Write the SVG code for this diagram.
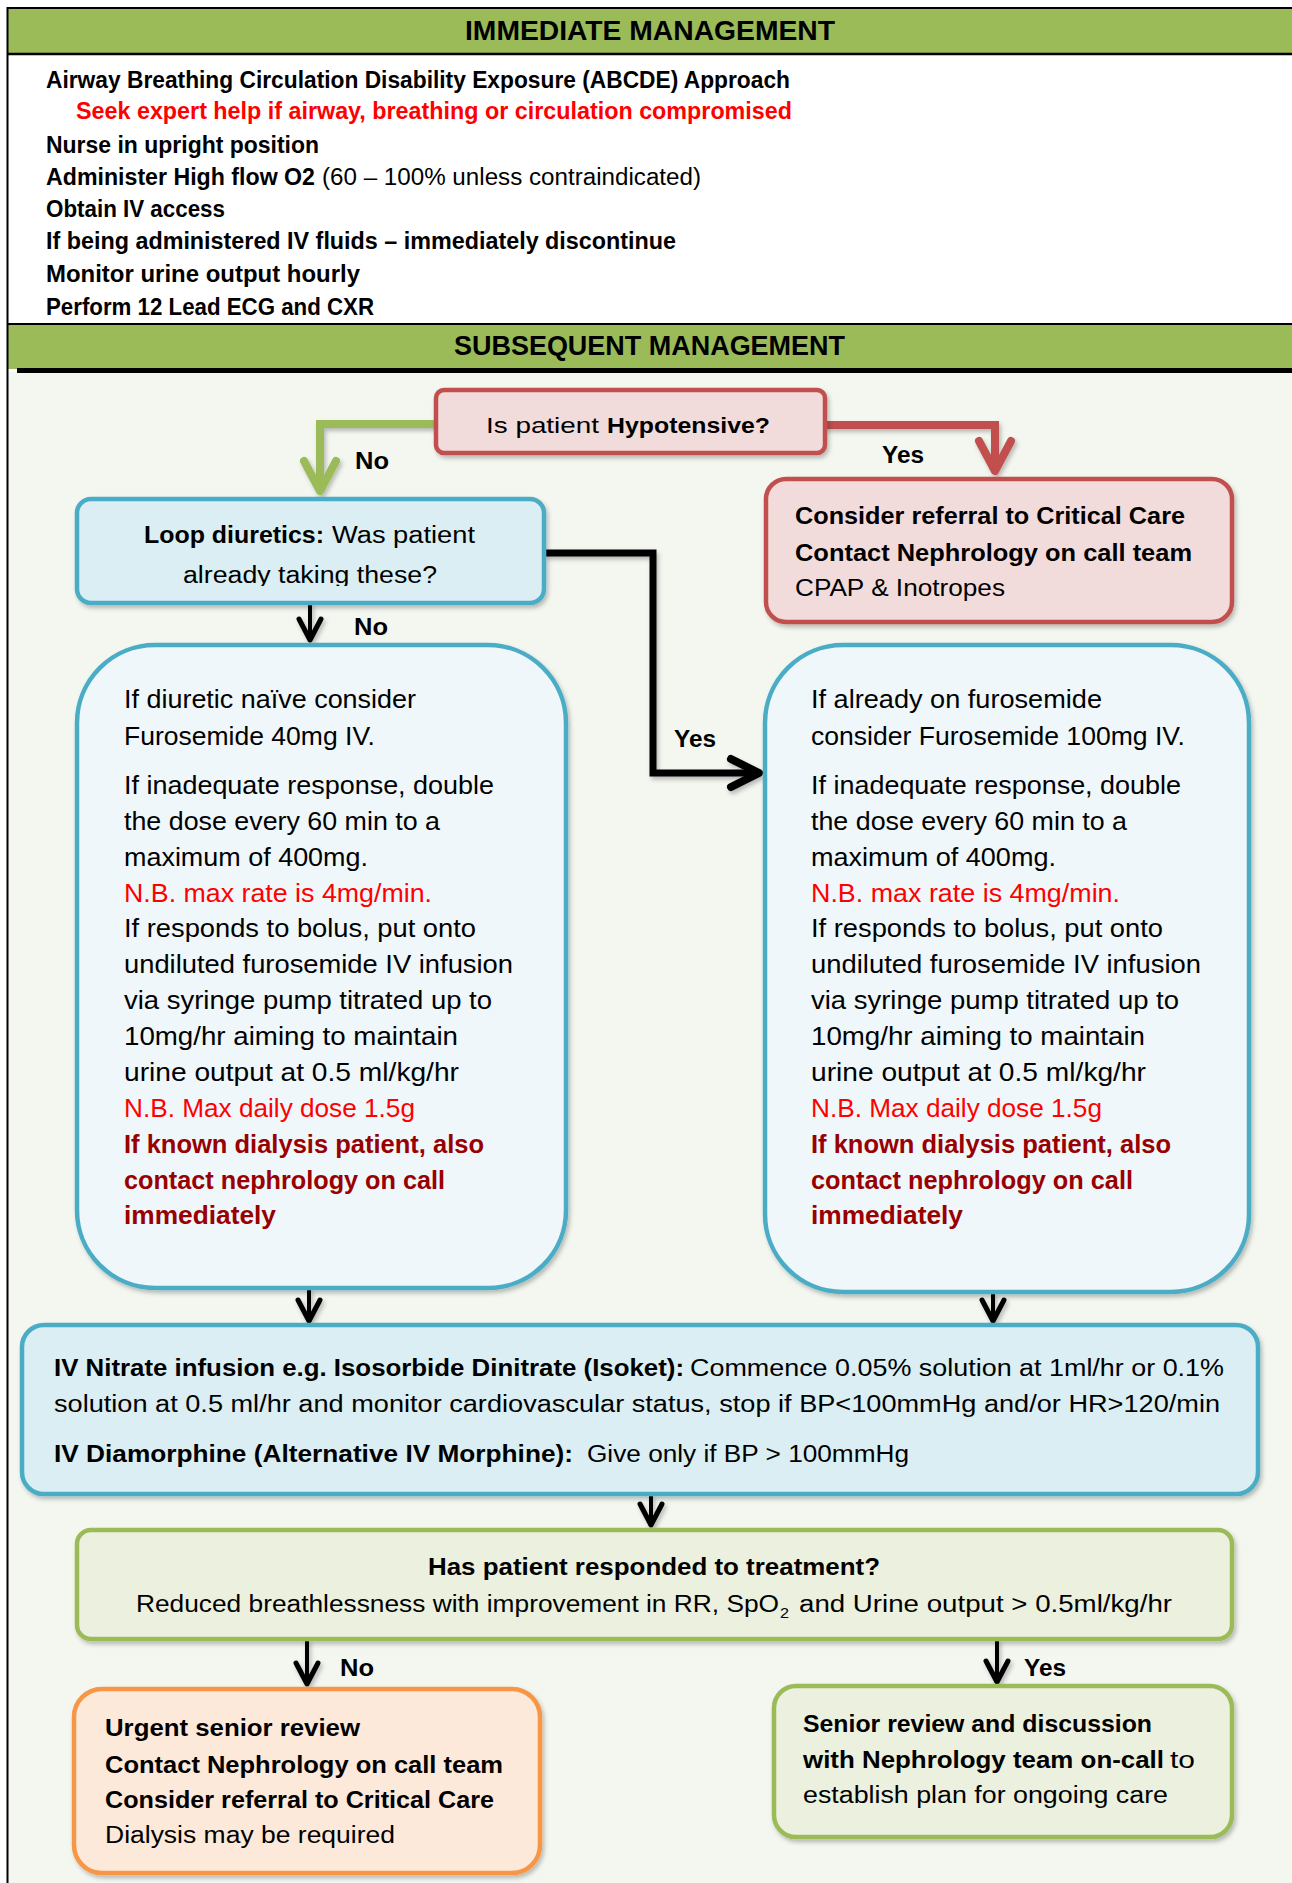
<svg xmlns="http://www.w3.org/2000/svg" width="1292" height="1883" viewBox="0 0 1292 1883">
<style>
.t{font-family:"Liberation Sans",Arial,sans-serif;fill:#000}
.b{font-weight:bold}
.s22{font-size:22px}.s23{font-size:23px}.s24{font-size:24px}.s26{font-size:26px}.s27{font-size:27px}
.red{fill:#FF0000}
.dred{fill:#990000}
.box{stroke-width:4.5}
.blue{fill:#DAEEF3;stroke:#4BACC6}
.lblue{fill:#EFF7FA;stroke:#4BACC6}
.pink{fill:#F2DCDB;stroke:#C0504D}
.lgreen{fill:#EBF1DE;stroke:#9BBB59}
.orange{fill:#FDE9D9;stroke:#F79646}
.conn{fill:none;stroke-linejoin:miter}
</style>
<defs>
<filter id="sh" x="-10%" y="-10%" width="120%" height="130%">
<feDropShadow dx="2" dy="3" stdDeviation="2" flood-color="#000" flood-opacity="0.25"/>
</filter>
<marker id="mBS" markerUnits="userSpaceOnUse" orient="auto" overflow="visible" markerWidth="40" markerHeight="40" viewBox="-40 -20 40 40" refX="0" refY="0">
<path d="M-21,-11 L0,0 L-21,11" fill="none" stroke="#000" stroke-width="5" stroke-linecap="round" stroke-linejoin="round"/>
</marker>
<marker id="mBL" markerUnits="userSpaceOnUse" orient="auto" overflow="visible" markerWidth="40" markerHeight="40" viewBox="-40 -20 40 40" refX="0" refY="0">
<path d="M-28,-14 L0,0 L-28,14" fill="none" stroke="#000" stroke-width="8" stroke-linecap="round" stroke-linejoin="round"/>
</marker>
<marker id="mG" markerUnits="userSpaceOnUse" orient="auto" overflow="visible" markerWidth="40" markerHeight="40" viewBox="-40 -20 40 40" refX="0" refY="0">
<path d="M-30,-16 L0,0 L-30,16" fill="none" stroke="#9BBB59" stroke-width="8" stroke-linecap="round" stroke-linejoin="round"/>
</marker>
<marker id="mR" markerUnits="userSpaceOnUse" orient="auto" overflow="visible" markerWidth="40" markerHeight="40" viewBox="-40 -20 40 40" refX="0" refY="0">
<path d="M-30,-16 L0,0 L-30,16" fill="none" stroke="#C0504D" stroke-width="8" stroke-linecap="round" stroke-linejoin="round"/>
</marker>
<clipPath id="loopClip"><rect x="76" y="498" width="470" height="88"/></clipPath>
</defs>

<!-- page background -->
<rect x="0" y="0" width="1292" height="1883" fill="#FFFFFF"/>
<rect x="8" y="372" width="1284" height="1511" fill="#F4F7F0"/>

<!-- Immediate management header -->
<g id="header-immediate">
<rect x="8" y="8" width="1284" height="46" fill="#9BBB59"/>
<line x1="7" y1="8" x2="1292" y2="8" stroke="#000" stroke-width="2"/>
<line x1="7" y1="54" x2="1292" y2="54" stroke="#000" stroke-width="2.5"/>
<text class="t b s27" x="465" y="40" textLength="370" lengthAdjust="spacingAndGlyphs">IMMEDIATE MANAGEMENT</text>
</g>

<g id="immediate-list">
<text class="t b s23" x="46" y="88" textLength="744" lengthAdjust="spacingAndGlyphs">Airway Breathing Circulation Disability Exposure (ABCDE) Approach</text>
<text class="t b s23 red" x="76" y="119" textLength="716" lengthAdjust="spacingAndGlyphs">Seek expert help if airway, breathing or circulation compromised</text>
<text class="t b s23" x="46" y="153" textLength="273" lengthAdjust="spacingAndGlyphs">Nurse in upright position</text>
<text class="t b s23" x="46" y="185" textLength="269" lengthAdjust="spacingAndGlyphs">Administer High flow O2</text>
<text class="t s23" x="322" y="185" textLength="379" lengthAdjust="spacingAndGlyphs">(60 – 100% unless contraindicated)</text>
<text class="t b s23" x="46" y="217" textLength="179" lengthAdjust="spacingAndGlyphs">Obtain IV access</text>
<text class="t b s23" x="46" y="249" textLength="630" lengthAdjust="spacingAndGlyphs">If being administered IV fluids – immediately discontinue</text>
<text class="t b s23" x="46" y="282" textLength="314" lengthAdjust="spacingAndGlyphs">Monitor urine output hourly</text>
<text class="t b s23" x="46" y="315" textLength="328" lengthAdjust="spacingAndGlyphs">Perform 12 Lead ECG and CXR</text>
</g>

<!-- Subsequent management header -->
<g id="header-subsequent">
<rect x="8" y="324" width="1284" height="45" fill="#9BBB59"/>
<line x1="7" y1="324" x2="1292" y2="324" stroke="#000" stroke-width="2"/>
<line x1="17" y1="370.5" x2="1292" y2="370.5" stroke="#000" stroke-width="5"/>
<text class="t b s27" x="454" y="355" textLength="391" lengthAdjust="spacingAndGlyphs">SUBSEQUENT MANAGEMENT</text>
</g>

<!-- left frame line -->
<line x1="7.5" y1="7" x2="7.5" y2="1883" stroke="#000" stroke-width="2"/>

<!-- Connectors -->
<g id="connectors" filter="url(#sh)">
<path class="conn" d="M437,424 H320 V491" stroke="#9BBB59" stroke-width="8" marker-end="url(#mG)"/>
<path class="conn" d="M823,425 H995 V471" stroke="#C0504D" stroke-width="8" marker-end="url(#mR)"/>
<path class="conn" d="M544,553 H653 V773 H759" stroke="#000" stroke-width="7" marker-end="url(#mBL)"/>
<path class="conn" d="M310,603 V640" stroke="#000" stroke-width="4" marker-end="url(#mBS)"/>
<path class="conn" d="M309,1288 V1321" stroke="#000" stroke-width="4" marker-end="url(#mBS)"/>
<path class="conn" d="M993,1292 V1321" stroke="#000" stroke-width="4" marker-end="url(#mBS)"/>
<path class="conn" d="M651,1495 V1525" stroke="#000" stroke-width="4" marker-end="url(#mBS)"/>
<path class="conn" d="M307,1639 V1684" stroke="#000" stroke-width="4" marker-end="url(#mBS)"/>
<path class="conn" d="M997,1639 V1682" stroke="#000" stroke-width="4" marker-end="url(#mBS)"/>
</g>

<!-- Connector labels -->
<g id="labels">
<text class="t b s23" x="355" y="469" textLength="34" lengthAdjust="spacingAndGlyphs">No</text>
<text class="t b s23" x="882" y="463" textLength="42" lengthAdjust="spacingAndGlyphs">Yes</text>
<text class="t b s23" x="354" y="635" textLength="34" lengthAdjust="spacingAndGlyphs">No</text>
<text class="t b s23" x="674" y="747" textLength="42" lengthAdjust="spacingAndGlyphs">Yes</text>
<text class="t b s23" x="340" y="1676" textLength="34" lengthAdjust="spacingAndGlyphs">No</text>
<text class="t b s23" x="1024" y="1676" textLength="42" lengthAdjust="spacingAndGlyphs">Yes</text>
</g>

<!-- Hypotensive decision -->
<g id="node-hypotensive">
<rect class="box pink" x="436" y="390" width="389" height="63" rx="8" filter="url(#sh)"/>
<text class="t s22" x="486" y="433" textLength="113" lengthAdjust="spacingAndGlyphs">Is patient</text>
<text class="t b s22" x="607" y="433" textLength="163" lengthAdjust="spacingAndGlyphs">Hypotensive?</text>
</g>

<!-- Critical care -->
<g id="node-critical">
<rect class="box pink" x="766" y="479" width="466" height="143" rx="20" filter="url(#sh)"/>
<text class="t b s24" x="795" y="524" textLength="390" lengthAdjust="spacingAndGlyphs">Consider referral to Critical Care</text>
<text class="t b s24" x="795" y="561" textLength="397" lengthAdjust="spacingAndGlyphs">Contact Nephrology on call team</text>
<text class="t s24" x="795" y="596" textLength="210" lengthAdjust="spacingAndGlyphs">CPAP &amp; Inotropes</text>
</g>

<!-- Loop diuretics -->
<g id="node-loop">
<rect class="box blue" x="77" y="499" width="467" height="104" rx="14" filter="url(#sh)"/>
<text class="t b s23" x="144" y="543" textLength="180" lengthAdjust="spacingAndGlyphs">Loop diuretics:</text>
<text class="t s23" x="332" y="543" textLength="143" lengthAdjust="spacingAndGlyphs">Was patient</text>
<text class="t s23" x="183" y="583" textLength="254" lengthAdjust="spacingAndGlyphs" clip-path="url(#loopClip)">already taking these?</text>
</g>

<!-- Left furosemide box -->
<g id="node-naive">
<rect class="box lblue" x="77" y="645" width="489" height="643" rx="78" filter="url(#sh)"/>
<text class="t s26" x="124" y="708" textLength="292" lengthAdjust="spacingAndGlyphs">If diuretic naïve consider</text>
<text class="t s26" x="124" y="745" textLength="251" lengthAdjust="spacingAndGlyphs">Furosemide 40mg IV.</text>
<text class="t s26" x="124" y="794" textLength="370" lengthAdjust="spacingAndGlyphs">If inadequate response, double</text>
<text class="t s26" x="124" y="830" textLength="316" lengthAdjust="spacingAndGlyphs">the dose every 60 min to a</text>
<text class="t s26" x="124" y="866" textLength="244" lengthAdjust="spacingAndGlyphs">maximum of 400mg.</text>
<text class="t s26 red" x="124" y="902" textLength="308" lengthAdjust="spacingAndGlyphs">N.B. max rate is 4mg/min.</text>
<text class="t s26" x="124" y="937" textLength="352" lengthAdjust="spacingAndGlyphs">If responds to bolus, put onto</text>
<text class="t s26" x="124" y="973" textLength="389" lengthAdjust="spacingAndGlyphs">undiluted furosemide IV infusion</text>
<text class="t s26" x="124" y="1009" textLength="368" lengthAdjust="spacingAndGlyphs">via syringe pump titrated up to</text>
<text class="t s26" x="124" y="1045" textLength="334" lengthAdjust="spacingAndGlyphs">10mg/hr aiming to maintain</text>
<text class="t s26" x="124" y="1081" textLength="335" lengthAdjust="spacingAndGlyphs">urine output at 0.5 ml/kg/hr</text>
<text class="t s26 red" x="124" y="1117" textLength="291" lengthAdjust="spacingAndGlyphs">N.B. Max daily dose 1.5g</text>
<text class="t b s26 dred" x="124" y="1153" textLength="360" lengthAdjust="spacingAndGlyphs">If known dialysis patient, also</text>
<text class="t b s26 dred" x="124" y="1189" textLength="321" lengthAdjust="spacingAndGlyphs">contact nephrology on call</text>
<text class="t b s26 dred" x="124" y="1224" textLength="152" lengthAdjust="spacingAndGlyphs">immediately</text>
</g>

<!-- Right furosemide box -->
<g id="node-already">
<rect class="box lblue" x="765" y="645" width="484" height="647" rx="78" filter="url(#sh)"/>
<text class="t s26" x="811" y="708" textLength="291" lengthAdjust="spacingAndGlyphs">If already on furosemide</text>
<text class="t s26" x="811" y="745" textLength="374" lengthAdjust="spacingAndGlyphs">consider Furosemide 100mg IV.</text>
<text class="t s26" x="811" y="794" textLength="370" lengthAdjust="spacingAndGlyphs">If inadequate response, double</text>
<text class="t s26" x="811" y="830" textLength="316" lengthAdjust="spacingAndGlyphs">the dose every 60 min to a</text>
<text class="t s26" x="811" y="866" textLength="245" lengthAdjust="spacingAndGlyphs">maximum of 400mg.</text>
<text class="t s26 red" x="811" y="902" textLength="309" lengthAdjust="spacingAndGlyphs">N.B. max rate is 4mg/min.</text>
<text class="t s26" x="811" y="937" textLength="352" lengthAdjust="spacingAndGlyphs">If responds to bolus, put onto</text>
<text class="t s26" x="811" y="973" textLength="390" lengthAdjust="spacingAndGlyphs">undiluted furosemide IV infusion</text>
<text class="t s26" x="811" y="1009" textLength="368" lengthAdjust="spacingAndGlyphs">via syringe pump titrated up to</text>
<text class="t s26" x="811" y="1045" textLength="334" lengthAdjust="spacingAndGlyphs">10mg/hr aiming to maintain</text>
<text class="t s26" x="811" y="1081" textLength="335" lengthAdjust="spacingAndGlyphs">urine output at 0.5 ml/kg/hr</text>
<text class="t s26 red" x="811" y="1117" textLength="291" lengthAdjust="spacingAndGlyphs">N.B. Max daily dose 1.5g</text>
<text class="t b s26 dred" x="811" y="1153" textLength="360" lengthAdjust="spacingAndGlyphs">If known dialysis patient, also</text>
<text class="t b s26 dred" x="811" y="1189" textLength="322" lengthAdjust="spacingAndGlyphs">contact nephrology on call</text>
<text class="t b s26 dred" x="811" y="1224" textLength="152" lengthAdjust="spacingAndGlyphs">immediately</text>
</g>

<!-- Nitrate / Diamorphine -->
<g id="node-nitrate">
<rect class="box blue" x="22" y="1325" width="1236" height="169" rx="22" filter="url(#sh)"/>
<text class="t b s23" x="54" y="1376" textLength="630" lengthAdjust="spacingAndGlyphs">IV Nitrate infusion e.g. Isosorbide Dinitrate (Isoket):</text>
<text class="t s23" x="690" y="1376" textLength="534" lengthAdjust="spacingAndGlyphs">Commence 0.05% solution at 1ml/hr or 0.1%</text>
<text class="t s23" x="54" y="1412" textLength="1166" lengthAdjust="spacingAndGlyphs">solution at 0.5 ml/hr and monitor cardiovascular status, stop if BP&lt;100mmHg and/or HR&gt;120/min</text>
<text class="t b s23" x="54" y="1462" textLength="519" lengthAdjust="spacingAndGlyphs">IV Diamorphine (Alternative IV Morphine):</text>
<text class="t s23" x="587" y="1462" textLength="322" lengthAdjust="spacingAndGlyphs">Give only if BP &gt; 100mmHg</text>
</g>

<!-- Response decision -->
<g id="node-response">
<rect class="box lgreen" x="77" y="1530" width="1155" height="109" rx="14" filter="url(#sh)"/>
<text class="t b s23" x="428" y="1575" textLength="452" lengthAdjust="spacingAndGlyphs">Has patient responded to treatment?</text>
<text class="t s23" x="136" y="1612" textLength="643" lengthAdjust="spacingAndGlyphs">Reduced breathlessness with improvement in RR, SpO</text>
<text class="t s23" x="780" y="1618" font-size="15" style="font-size:15px" textLength="9" lengthAdjust="spacingAndGlyphs">2</text>
<text class="t s23" x="799" y="1612" textLength="373" lengthAdjust="spacingAndGlyphs">and Urine output &gt; 0.5ml/kg/hr</text>
</g>

<!-- Urgent review -->
<g id="node-urgent">
<rect class="box orange" x="74" y="1689" width="466" height="184" rx="28" filter="url(#sh)"/>
<text class="t b s23" x="105" y="1736" textLength="255" lengthAdjust="spacingAndGlyphs">Urgent senior review</text>
<text class="t b s23" x="105" y="1773" textLength="398" lengthAdjust="spacingAndGlyphs">Contact Nephrology on call team</text>
<text class="t b s23" x="105" y="1808" textLength="389" lengthAdjust="spacingAndGlyphs">Consider referral to Critical Care</text>
<text class="t s23" x="105" y="1843" textLength="290" lengthAdjust="spacingAndGlyphs">Dialysis may be required</text>
</g>

<!-- Senior review -->
<g id="node-senior">
<rect class="box lgreen" x="774" y="1686" width="458" height="151" rx="22" filter="url(#sh)"/>
<text class="t b s23" x="803" y="1732" textLength="349" lengthAdjust="spacingAndGlyphs">Senior review and discussion</text>
<text class="t b s23" x="803" y="1768" textLength="361" lengthAdjust="spacingAndGlyphs">with Nephrology team on-call</text>
<text class="t s23" x="1170" y="1768" textLength="25" lengthAdjust="spacingAndGlyphs">to</text>
<text class="t s23" x="803" y="1803" textLength="365" lengthAdjust="spacingAndGlyphs">establish plan for ongoing care</text>
</g>
</svg>
